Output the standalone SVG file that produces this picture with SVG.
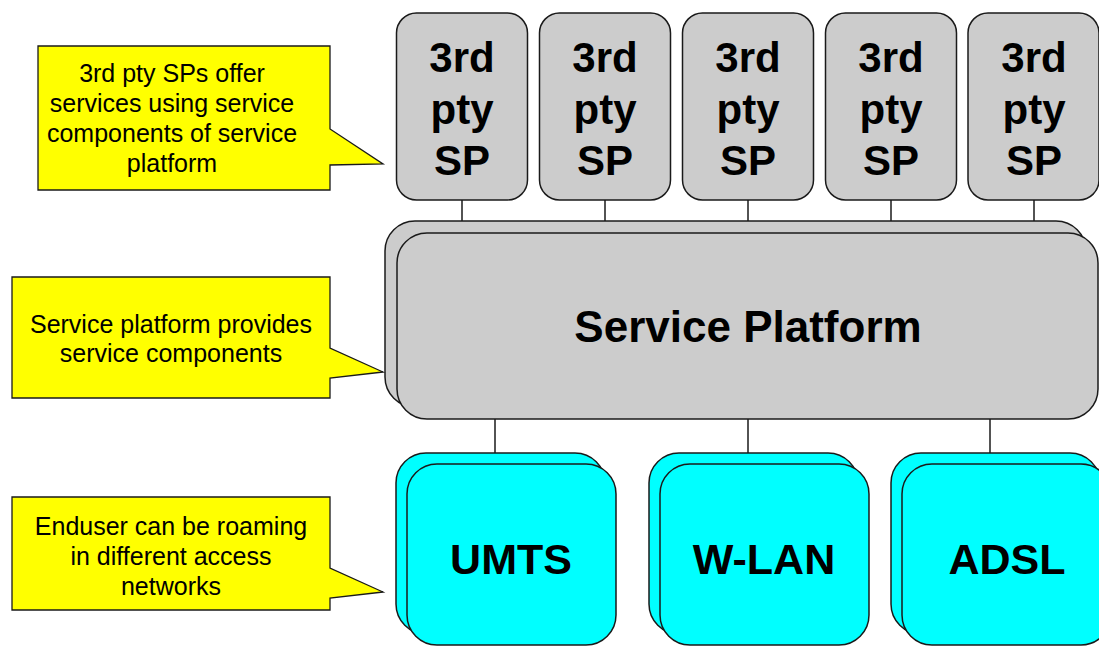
<svg xmlns="http://www.w3.org/2000/svg" width="1099" height="646" viewBox="0 0 1099 646">
  <style>
    .bg { fill: #ffffff; }
    .sp { fill: #cccccc; stroke: #1a1a1a; stroke-width: 1.5; }
    .net { fill: #00ffff; stroke: #1a1a1a; stroke-width: 1.5; }
    .note { fill: #ffff00; stroke: #1a1a1a; stroke-width: 1.3; }
    .link { stroke: #1a1a1a; stroke-width: 1.5; fill: none; }
    .big { font-family: "Liberation Sans", Arial, sans-serif; font-weight: bold; text-anchor: middle; fill: #000000; }
    .small { font-family: "Liberation Sans", Arial, sans-serif; font-size: 25px; text-anchor: middle; fill: #000000; }
  </style>
  <defs>
    <rect id="spBox" width="131" height="187" rx="20" ry="20"/>
    <rect id="netBox" width="209" height="181" rx="30" ry="30"/>
  </defs>

  <rect class="bg" x="0" y="0" width="1099" height="646"/>

  <!-- connectors -->
  <g id="connectors">
    <line class="link" x1="462" y1="200" x2="462" y2="222"/>
    <line class="link" x1="605" y1="200" x2="605" y2="222"/>
    <line class="link" x1="748" y1="200" x2="748" y2="222"/>
    <line class="link" x1="891" y1="200" x2="891" y2="222"/>
    <line class="link" x1="1034" y1="200" x2="1034" y2="222"/>
    <line class="link" x1="495" y1="419" x2="495" y2="453"/>
    <line class="link" x1="748" y1="419" x2="748" y2="453"/>
    <line class="link" x1="990" y1="419" x2="990" y2="453"/>
  </g>

  <!-- third party service providers -->
  <g id="sp1">
    <use href="#spBox" class="sp" x="396.5" y="13"/>
    <text class="big" font-size="42" x="462" y="72">3rd</text>
    <text class="big" font-size="42" x="462" y="123.5">pty</text>
    <text class="big" font-size="42" x="462" y="175">SP</text>
  </g>
  <g id="sp2">
    <use href="#spBox" class="sp" x="539.5" y="13"/>
    <text class="big" font-size="42" x="605" y="72">3rd</text>
    <text class="big" font-size="42" x="605" y="123.5">pty</text>
    <text class="big" font-size="42" x="605" y="175">SP</text>
  </g>
  <g id="sp3">
    <use href="#spBox" class="sp" x="682.5" y="13"/>
    <text class="big" font-size="42" x="748" y="72">3rd</text>
    <text class="big" font-size="42" x="748" y="123.5">pty</text>
    <text class="big" font-size="42" x="748" y="175">SP</text>
  </g>
  <g id="sp4">
    <use href="#spBox" class="sp" x="825.5" y="13"/>
    <text class="big" font-size="42" x="891" y="72">3rd</text>
    <text class="big" font-size="42" x="891" y="123.5">pty</text>
    <text class="big" font-size="42" x="891" y="175">SP</text>
  </g>
  <g id="sp5">
    <use href="#spBox" class="sp" x="968" y="13"/>
    <text class="big" font-size="42" x="1034" y="72">3rd</text>
    <text class="big" font-size="42" x="1034" y="123.5">pty</text>
    <text class="big" font-size="42" x="1034" y="175">SP</text>
  </g>

  <!-- service platform (stacked) -->
  <g id="platform">
    <rect class="sp" x="385" y="221" width="701" height="186" rx="30" ry="30"/>
    <rect class="sp" x="397" y="233" width="701" height="186" rx="30" ry="30"/>
    <text class="big" font-size="44" x="748" y="342">Service Platform</text>
  </g>

  <!-- access networks (stacked) -->
  <g id="umts">
    <use href="#netBox" class="net" x="396" y="453"/>
    <use href="#netBox" class="net" x="407" y="464"/>
    <text class="big" font-size="43" x="511" y="574">UMTS</text>
  </g>
  <g id="wlan">
    <use href="#netBox" class="net" x="649" y="453"/>
    <use href="#netBox" class="net" x="660" y="464"/>
    <text class="big" font-size="43" x="764" y="574">W-LAN</text>
  </g>
  <g id="adsl">
    <use href="#netBox" class="net" x="891" y="453"/>
    <use href="#netBox" class="net" x="902" y="464"/>
    <text class="big" font-size="43" x="1007" y="574">ADSL</text>
  </g>

  <!-- explanatory callouts -->
  <g id="note-sp">
    <path class="note" d="M38,46 H330 V129 L383,164 L330,165 V190 H38 Z"/>
    <text class="small" x="172" y="82">3rd pty SPs offer</text>
    <text class="small" x="172" y="112">services using service</text>
    <text class="small" x="172" y="142">components of service</text>
    <text class="small" x="172" y="172">platform</text>
  </g>
  <g id="note-platform">
    <path class="note" d="M12,277 H330 V348 L383,372 L330,378 V398 H12 Z"/>
    <text class="small" x="171" y="333">Service platform provides</text>
    <text class="small" x="171" y="362">service components</text>
  </g>
  <g id="note-access">
    <path class="note" d="M12,497 H330 V568 L383,592 L330,598 V610 H12 Z"/>
    <text class="small" x="171" y="535">Enduser can be roaming</text>
    <text class="small" x="171" y="565">in different access</text>
    <text class="small" x="171" y="595">networks</text>
  </g>
</svg>
